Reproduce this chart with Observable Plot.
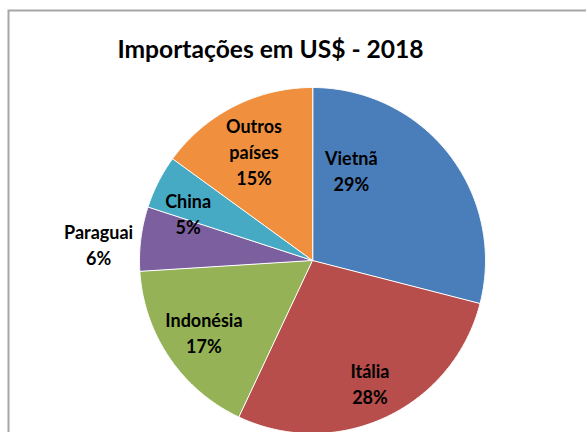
<!DOCTYPE html>
<html>
<head>
<meta charset="utf-8">
<script src="https://cdn.jsdelivr.net/npm/d3@7"></script>
<script src="https://cdn.jsdelivr.net/npm/@observablehq/plot@0.6"></script>
<style>
  html, body { margin: 0; padding: 0; background: #fff; }
  #chart svg { display: block; }
</style>
</head>
<body>
<div id="chart"></div>
<script>
// ---- data ----
const title = "Importações em US$ - 2018";
const categories = ["Vietnã", "Itália", "Indonésia", "Paraguai", "China", "Outros países"];
const categoryLabels = ["Vietnã", "Itália", "Indonésia", "Paraguai", "China", "Outros\npaíses"];
const values = [29, 28, 17, 6, 5, 15];
const colors = ["#4a7ebb", "#b84e4b", "#95b356", "#7c5f9f", "#46aac4", "#f0903f"];

// ---- layout ----
const W = 586, H = 432;
const cx = 312, cy = 260, R = 173;          // pie centre / radius in pixels
const labelRadius = [0.57, 0.78, 0.75, 1.24, 0.77, 0.72];   // fraction of radius
const labelShift = [-29, 0, 1, -2.7, -6, -1];                 // degrees from mid-angle

const total = d3.sum(values);
const arcs = d3.pie().sort(null).value(d => d)(values);

// slice polygons in unit (radius = 1) coordinates, y up
const slicePts = [];
arcs.forEach((a, i) => {
  const name = categories[i];
  slicePts.push({name, x: 0, y: 0});
  const n = Math.max(2, Math.ceil((a.endAngle - a.startAngle) / (Math.PI / 360)));
  for (let k = 0; k <= n; k++) {
    const t = a.startAngle + (a.endAngle - a.startAngle) * k / n;
    slicePts.push({name, x: Math.sin(t), y: Math.cos(t)});
  }
});

const labels = arcs.map((a, i) => {
  const mid = (a.startAngle + a.endAngle) / 2 + labelShift[i] * Math.PI / 180;
  const r = labelRadius[i];
  return {
    x: r * Math.sin(mid),
    y: r * Math.cos(mid),
    text: categoryLabels[i] + "\n" + Math.round(values[i] / total * 100) + "%"
  };
});

const chart = Plot.plot({
  width: W,
  height: H,
  margin: 0,
  style: {fontFamily: "Lato, sans-serif", background: "#fff"},
  x: {domain: [-cx / R, (W - cx) / R], axis: null},
  y: {domain: [-(H - cy) / R, cy / R], axis: null},
  color: {domain: categories, range: colors},
  marks: [
    Plot.line(slicePts, {x: "x", y: "y", z: "name", fill: "name", stroke: "white", strokeWidth: 1, curve: "linear-closed"}),
    Plot.text(labels, {x: "x", y: "y", text: "text", fontSize: 18, fontWeight: "bold", lineHeight: 1.45, fill: "#000"}),
    Plot.text([title], {frameAnchor: "top-left", dx: 270, dy: 50, textAnchor: "middle", lineAnchor: "middle",
      fontSize: 24.6, fontWeight: "bold", fill: "#000"}),
    Plot.frame({stroke: "#a6a6a6", strokeWidth: 2, insetLeft: 8, insetTop: 10, insetRight: -6, insetBottom: -6})
  ]
});
document.getElementById("chart").appendChild(chart);
</script>
</body>
</html>
